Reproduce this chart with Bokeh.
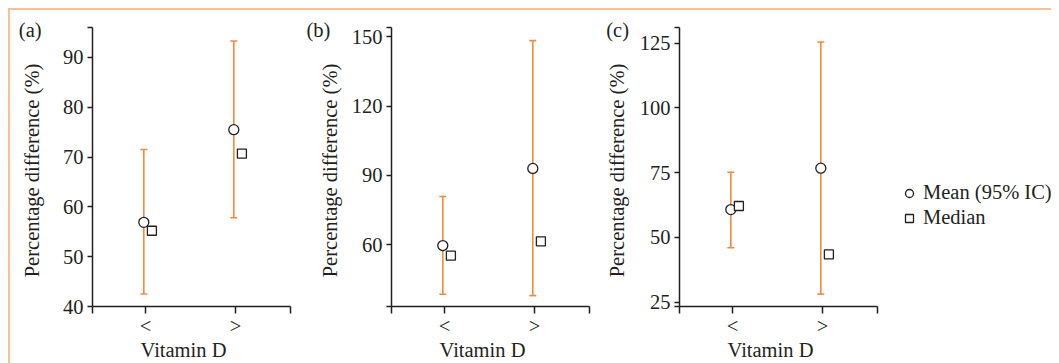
import math
from bokeh.plotting import figure
from bokeh.layouts import row
from bokeh.models import (FixedTicker, Whisker, TeeHead, ColumnDataSource, Legend,
                          LegendItem, Label, CustomJSTickFormatter)
from bokeh.embed import file_html
from bokeh.resources import INLINE

# ---------------- data ----------------
categories = ["<", ">"]
cat_pos = [1, 2]

a_mean = [56.9, 75.5]
a_median = [55.2, 70.7]
a_lower = [42.5, 57.8]
a_upper = [71.5, 93.3]
a_yticks = [40, 50, 60, 70, 80, 90]
a_yrange = (40, 96)

b_mean = [59.6, 93.0]
b_median = [55.2, 61.4]
b_lower = [38.5, 37.9]
b_upper = [80.8, 148.3]
b_yticks = [60, 90, 120, 150]
b_yrange = (33.2, 154)

c_mean = [60.7, 76.7]
c_median = [62.1, 43.4]
c_lower = [46.0, 28.1]
c_upper = [75.1, 125.4]
c_yticks = [25, 50, 75, 100, 125]
c_yrange = (23.3, 131)

panel_labels = ["(a)", "(b)", "(c)"]
y_title = "Percentage difference (%)"
x_title = "Vitamin D"
legend_labels = ["Mean (95% IC)", "Median"]

# ---------------- style / layout ----------------
FONT = "Liberation Serif"
FS = "20.5px"
INK = "#231F20"
ORANGE = "#F5883C"
BORDER = "#F9C095"
CANVAS_H = 353
AX_TOP = 17      # px from canvas top to top of y axis
AX_BOT = 296     # px from canvas top to x axis
PX_PER_CAT = 90
XB = (0.41, 2.61)
MEAN_DX = -0.02
MEDIAN_DX = 0.07


def make_panel(tag, mean, median, lower, upper, yticks, yrange,
               width, axis_left, ylab_cx, tag_x, with_legend=False):
    ylo, yhi = yrange
    s = (AX_BOT - AX_TOP) / (yhi - ylo)
    y_start = ylo - (CANVAS_H - AX_BOT) / s
    y_end = yhi + AX_TOP / s
    x_start = XB[0] - axis_left / PX_PER_CAT
    x_end = x_start + width / PX_PER_CAT

    p = figure(width=width, height=CANVAS_H, output_backend="svg",
               toolbar_location=None, x_range=(x_start, x_end),
               y_range=(y_start, y_end), min_border=0,
               min_border_left=0, min_border_right=0, min_border_top=0,
               min_border_bottom=0)
    p.outline_line_color = None
    p.grid.visible = False
    p.background_fill_color = "white"
    p.border_fill_color = "white"

    src = ColumnDataSource(dict(
        xm=[c + MEAN_DX for c in cat_pos],
        xd=[c + MEDIAN_DX for c in cat_pos],
        mean=mean, median=median, lower=lower, upper=upper))

    w = Whisker(source=src, base="xm", upper="upper", lower="lower",
                dimension="height", line_color=ORANGE, line_width=1.6,
                upper_head=TeeHead(size=7, line_color=ORANGE, line_width=1.6),
                lower_head=TeeHead(size=7, line_color=ORANGE, line_width=1.6))
    p.add_layout(w)

    r_mean = p.scatter("xm", "mean", source=src, marker="circle", size=10,
                       fill_color="white", line_color=INK, line_width=1.3)
    r_med = p.scatter("xd", "median", source=src, marker="square", size=9,
                      fill_color="white", line_color=INK, line_width=1.3)

    # x axis
    xa = p.xaxis[0]
    xa.fixed_location = ylo
    xa.bounds = XB
    xa.ticker = FixedTicker(ticks=[XB[0]] + cat_pos + [XB[1]])
    xa.formatter = CustomJSTickFormatter(
        args=dict(pos=cat_pos, labels=categories),
        code="const i = pos.indexOf(tick); return i >= 0 ? labels[i] : '';")
    xa.major_tick_out = 7
    xa.major_label_standoff = 1

    # y axis
    ya = p.yaxis[0]
    ya.fixed_location = XB[0]
    ya.bounds = (ylo, yhi)
    yt = sorted(set([ylo] + yticks + [yhi]))
    ya.ticker = FixedTicker(ticks=yt)
    ya.formatter = CustomJSTickFormatter(
        args=dict(labels=yticks),
        code="return labels.includes(tick) ? String(tick) : '';")
    ya.major_tick_out = 5
    ya.major_label_standoff = 4

    for ax in (xa, ya):
        ax.axis_line_color = INK
        ax.axis_line_width = 1.5
        ax.major_tick_line_color = INK
        ax.major_tick_line_width = 1.5
        ax.major_tick_in = 0
        ax.minor_tick_out = 0
        ax.minor_tick_in = 0
        ax.major_label_text_font = FONT
        ax.major_label_text_font_size = FS
        ax.major_label_text_color = INK

    def lab(x, y, text, **kw):
        p.add_layout(Label(x=x, y=y, x_units="screen", y_units="screen", text=text,
                           text_font=FONT, text_font_size=FS, text_color=INK, **kw))

    lab(tag_x, CANVAS_H - 19, tag, text_baseline="middle", text_align="left")
    lab(ylab_cx, CANVAS_H - 160, y_title, text_baseline="middle",
        text_align="center", angle=math.pi / 2)
    lab(axis_left + 91, 14, x_title, text_baseline="middle", text_align="center")

    if with_legend:
        leg = Legend(items=[LegendItem(label=legend_labels[0], renderers=[r_mean]),
                            LegendItem(label=legend_labels[1], renderers=[r_med])],
                     location=(304, 134), glyph_width=20, glyph_height=20,
                     label_standoff=4, padding=0, margin=0, spacing=2,
                     border_line_color=None, background_fill_alpha=0,
                     label_text_font=FONT, label_text_font_size=FS,
                     label_text_color=INK)
        p.add_layout(leg, "center")
    return p


pa = make_panel(panel_labels[0], a_mean, a_median, a_lower, a_upper, a_yticks,
                a_yrange, 285, 82, 21.7, 8.3)
pb = make_panel(panel_labels[1], b_mean, b_median, b_lower, b_upper, b_yticks,
                b_yrange, 300, 96, 34, 11)
pc = make_panel(panel_labels[2], c_mean, c_median, c_lower, c_upper, c_yticks,
                c_yrange, 456, 84, 21.7, 10.7, with_legend=True)

layout = row(pa, pb, pc, margin=(8, 0, 0, 8),
             styles={"border-top": "2px solid " + BORDER,
                     "border-left": "2px solid " + BORDER})

open("out.html", "w").write(file_html(layout, INLINE))
